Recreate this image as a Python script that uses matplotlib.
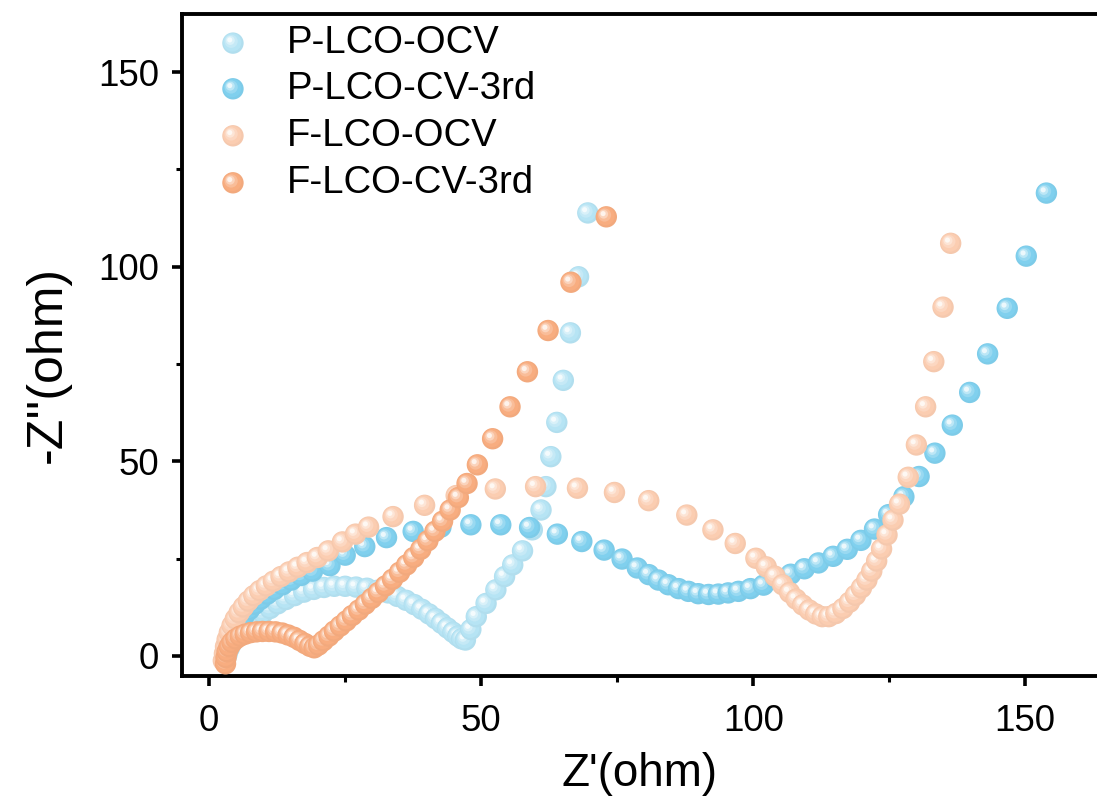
import numpy as np
import matplotlib
matplotlib.use('Agg')
import matplotlib.pyplot as plt
from matplotlib.path import Path
from matplotlib.collections import PathCollection
from matplotlib.colors import to_rgb
from matplotlib.ticker import MultipleLocator
from matplotlib.transforms import IdentityTransform

plt.rcParams['font.family'] = ['Liberation Sans', 'DejaVu Sans']

# Nyquist data (Z', -Z'' in ohm)
labels = ['P-LCO-OCV', 'P-LCO-CV-3rd', 'F-LCO-OCV', 'F-LCO-CV-3rd']
colors = ['#B6E4F4', '#80D0EE', '#FBCDB1', '#F8AD80']

p_ocv_x = [3.0, 3.3, 3.7, 4.2, 4.9, 5.7, 6.6, 7.6, 8.7, 9.9, 11.2, 12.6, 14.1, 15.7,
           17.4, 19.2, 21.1, 23.0, 25.0, 27.0, 29.0, 31.0, 32.9, 34.6, 36.2, 37.7,
           39.1, 40.4, 41.6, 42.7, 43.8, 44.8, 45.7, 46.4, 47.1, 48.1, 49.1, 50.9,
           52.7, 54.3, 55.8, 57.6, 59.4, 61.0, 61.9, 62.8, 63.9, 65.1, 66.4, 67.9, 69.6]
p_ocv_y = [-1.0, 0.5, 2.0, 3.4, 4.8, 6.1, 7.4, 8.6, 9.8, 11.0, 12.2, 13.4, 14.5, 15.5,
           16.4, 17.1, 17.6, 17.9, 17.9, 17.7, 17.4, 16.9, 16.2, 15.3, 14.3, 13.2,
           12.0, 10.8, 9.6, 8.4, 7.2, 6.1, 5.1, 4.4, 4.1, 6.8, 10.1, 13.5,
           17.0, 20.4, 23.4, 27.0, 32.4, 37.5, 43.5, 51.2, 60.0, 70.8, 83.0, 97.4, 113.8]

p_cv_x = [3.0, 3.2, 3.5, 3.9, 4.4, 5.0, 5.7, 6.5, 7.4, 8.4, 9.5, 10.7, 12.0, 13.5,
          15.1, 16.9, 19.0, 22.2, 25.0, 28.6, 32.6, 37.5, 42.6, 48.1, 53.6, 58.9,
          64.0, 68.5, 72.6, 75.9, 78.7, 80.8, 82.6, 84.4, 86.3, 88.1, 89.9, 91.8,
          93.6, 95.4, 97.3, 99.5, 101.9, 104.4, 106.9, 109.4, 112.0, 114.7, 117.3,
          119.8, 122.3, 124.9, 127.7, 130.5, 133.4, 136.6, 139.8, 143.1, 146.7,
          150.2, 153.9]
p_cv_y = [-0.5, 1.2, 2.9, 4.5, 6.1, 7.6, 9.1, 10.5, 11.9, 13.3, 14.6, 15.9, 17.1, 18.3,
          19.5, 20.7, 21.8, 23.2, 25.9, 28.1, 30.4, 32.0, 33.1, 33.7, 33.7, 33.0,
          31.3, 29.4, 27.2, 24.9, 22.6, 20.9, 19.5, 18.3, 17.3, 16.6, 16.0, 15.8,
          15.9, 16.2, 16.6, 17.3, 18.2, 19.5, 21.0, 22.4, 23.9, 25.6, 27.4,
          29.7, 32.6, 36.3, 40.9, 46.1, 52.1, 59.3, 67.7, 77.6, 89.3,
          102.7, 118.9]

f_ocv_x = [2.6, 2.8, 3.0, 3.3, 3.7, 4.2, 4.8, 5.5, 6.3, 7.2, 8.2, 9.3, 10.5, 11.8,
           13.2, 14.7, 16.3, 18.0, 19.9, 21.9, 24.5, 26.9, 29.3, 33.8, 39.6, 45.4,
           52.6, 60.0, 67.7, 74.5, 80.8, 87.8, 92.6, 96.7, 100.5, 102.4, 104.0,
           105.4, 106.7, 107.9, 109.1, 110.3, 111.5, 112.7, 113.9, 115.2, 116.5,
           117.7, 118.8, 119.9, 120.9, 121.8, 122.7, 123.6, 124.6, 125.7, 126.9,
           128.5, 130.0, 131.7, 133.2, 134.9, 136.3]
f_ocv_y = [-1.2, 0.6, 2.4, 4.2, 6.0, 7.8, 9.5, 11.1, 12.6, 14.1, 15.5, 16.8, 18.0, 19.2,
           20.4, 21.6, 22.8, 24.0, 25.3, 27.0, 29.3, 31.3, 33.1, 35.8, 38.7, 41.2,
           42.9, 43.5, 43.1, 42.0, 39.9, 36.2, 32.4, 28.9, 25.1, 22.9, 20.5,
           18.3, 16.3, 14.6, 13.1, 11.8, 10.8, 10.1, 10.1, 10.9, 12.2,
           13.8, 15.6, 17.5, 19.5, 21.8, 24.4, 27.5, 31.1, 34.9, 39.0,
           45.9, 54.2, 64.0, 75.6, 89.6, 106.0]

f_cv_x = [3.0, 3.1, 3.3, 3.7, 4.2, 4.9, 5.7, 6.6, 7.6, 8.7, 9.8, 11.0, 12.2, 13.4,
          14.5, 15.6, 16.6, 17.6, 18.5, 19.3, 20.1, 21.0, 22.0, 23.0, 24.1, 25.2,
          26.3, 27.5, 28.7, 29.9, 31.1, 32.4, 33.7, 35.0, 36.3, 37.6, 38.9, 40.2,
          41.5, 42.9, 44.3, 45.8, 47.4, 49.3, 52.1, 55.3, 58.5, 62.3, 66.5, 73.0]
f_cv_y = [-2.0, -0.4, 1.1, 2.4, 3.5, 4.4, 5.1, 5.6, 6.0, 6.2, 6.3, 6.3, 6.2, 5.9,
          5.4, 4.8, 4.0, 3.2, 2.5, 2.1, 2.8, 3.9, 5.1, 6.4, 7.7, 9.0,
          10.4, 11.8, 13.3, 14.8, 16.3, 18.0, 19.7, 21.5, 23.4, 25.3, 27.4, 29.6,
          32.0, 34.6, 37.5, 40.7, 44.3, 49.1, 55.8, 64.0, 73.0, 83.6, 96.0, 112.8]

series = [(p_ocv_x, p_ocv_y), (p_cv_x, p_cv_y), (f_ocv_x, f_ocv_y), (f_cv_x, f_cv_y)]


def ball_paths(color, R=7.7):
    # stacked circles give the shaded sphere look of the markers
    base = np.array(to_rgb(color))
    w = np.ones(3)
    layers = [(1.00, 0.00, 0.00, base * 0.975),
              (0.86, -0.07, 0.07, base),
              (0.62, -0.17, 0.17, base + (w - base) * 0.2),
              (0.42, -0.25, 0.25, base + (w - base) * 0.48),
              (0.24, -0.30, 0.30, base + (w - base) * 0.85)]
    paths = [Path.circle((dx * R, dy * R), r * R) for r, dx, dy, c in layers]
    cols = [c for r, dx, dy, c in layers]
    return paths, cols


def balls(ax, x, y, color, trans, zorder=3):
    paths, cols = ball_paths(color)
    offs = np.repeat(np.column_stack([x, y]), len(paths), axis=0)
    pc = PathCollection(paths, sizes=[1.0], offsets=offs, offset_transform=trans,
                        transform=IdentityTransform(), facecolors=cols,
                        edgecolors='none', zorder=zorder)
    ax.add_collection(pc, autolim=False)


fig = plt.figure(figsize=(10.97, 8.09), dpi=100)
ax = fig.add_axes([0.1659, 0.1644, 0.8341, 0.8183])

for (xs, ys), c in zip(series, colors):
    balls(ax, xs, ys, c, ax.transData)

# legend drawn by hand
leg_y = [0.956, 0.887, 0.816, 0.745]
for lab, c, yy in zip(labels, colors, leg_y):
    balls(ax, [0.0557], [yy], c, ax.transAxes, zorder=4)
    ax.text(0.1148, yy, lab, transform=ax.transAxes, fontsize=27.5, va='center', ha='left')

ax.set_xlim(-5.0, 163.2)
ax.set_ylim(-5.14, 164.9)
ax.xaxis.set_major_locator(MultipleLocator(50))
ax.xaxis.set_minor_locator(MultipleLocator(25))
ax.yaxis.set_major_locator(MultipleLocator(50))
ax.yaxis.set_minor_locator(MultipleLocator(25))
for s in ['left', 'top', 'bottom']:
    ax.spines[s].set_linewidth(2.8)
ax.spines['right'].set_visible(False)
ax.tick_params(which='major', direction='out', length=7.5, width=2.6, labelsize=26.5, pad=9)
ax.tick_params(which='minor', direction='out', length=4, width=2.2)
ax.tick_params(axis='x', which='major', pad=13)

ax.set_xlabel("Z'(ohm)", fontsize=33)
ax.set_ylabel("-Z''(ohm)", fontsize=36)
ax.xaxis.set_label_coords(0.5, -0.115)
ax.yaxis.set_label_coords(-0.122, 0.47)

fig.savefig('out.png', dpi=100)
